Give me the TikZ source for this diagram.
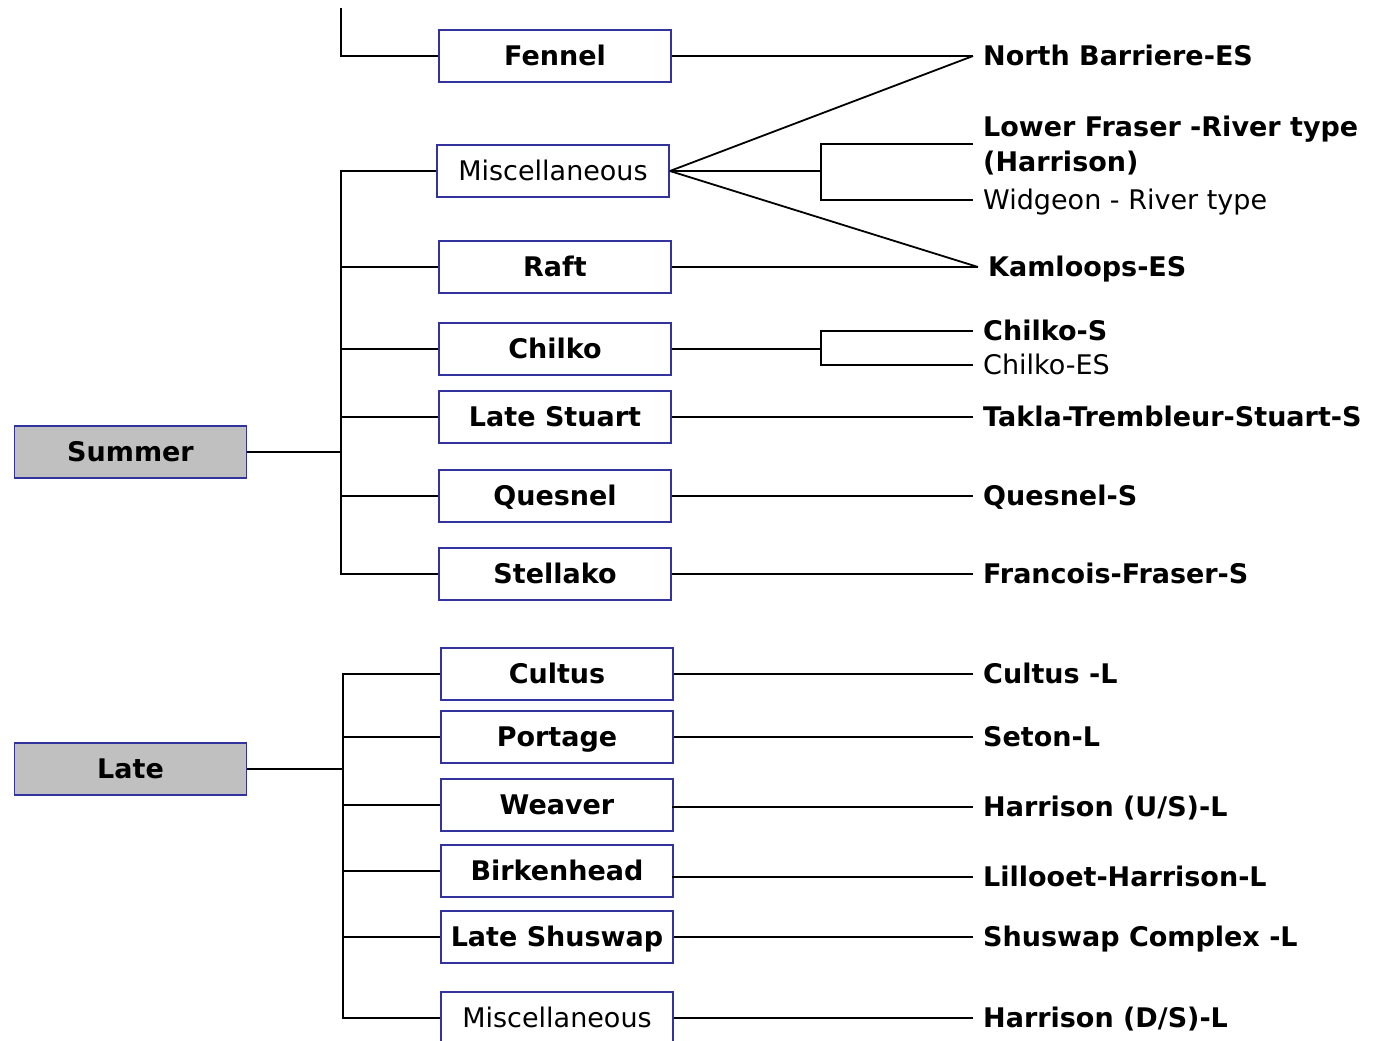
\documentclass[tikz,border=0pt]{standalone}
\usepackage{fontspec}
\setmainfont{DejaVu Sans}
\definecolor{boxblue}{HTML}{3333A0}
\definecolor{boxgray}{HTML}{C0C0C0}
\begin{document}
\begin{tikzpicture}[x=1pt,y=-1pt,
  every node/.style={font=\fontsize{27}{35}\selectfont},
  gbox/.style={draw=boxblue,line width=1.8pt,minimum width=232pt,minimum height=52pt,inner sep=0pt,text height=19.5pt,text depth=0pt,font=\fontsize{27}{35}\selectfont\bfseries},
  catbox/.style={gbox,fill=boxgray},
  nbox/.style={gbox,font=\fontsize{27}{35}\selectfont},
  lbl/.style={anchor=west,inner xsep=10pt,inner ysep=0pt,text height=19.5pt,text depth=0pt,font=\fontsize{27}{35}\selectfont\bfseries},
  nlbl/.style={lbl,font=\fontsize{27}{35}\selectfont},
  conn/.style={line width=1.8pt,black}]
\useasboundingbox (0,0) rectangle (1373,1041);
% category boxes
\node[catbox] (summer) at (130.5,452) {Summer};
\node[catbox] (late) at (130.5,769) {Late};
% summer groups
\node[gbox] (fennel) at (555,56) {Fennel};
\node[nbox] (misc1) at (553,171) {Miscellaneous};
\node[gbox] (raft) at (555,267) {Raft};
\node[gbox] (chilko) at (555,349) {Chilko};
\node[gbox] (lstuart) at (555,417) {Late Stuart};
\node[gbox] (quesnel) at (555,496) {Quesnel};
\node[gbox] (stellako) at (555,574) {Stellako};
% late groups
\node[gbox] (cultus) at (557,674) {Cultus};
\node[gbox] (portage) at (557,737) {Portage};
\node[gbox] (weaver) at (557,805) {Weaver};
\node[gbox] (birken) at (557,871) {Birkenhead};
\node[gbox] (lshus) at (557,937) {Late Shuswap};
\node[nbox] (misc2) at (557,1018) {Miscellaneous};
% labels
\node[lbl] (nbar) at (973,56) {North Barriere-ES};
\node[lbl,align=left,text height=,text depth=] (lfr) at (973,145.5) {Lower Fraser -River type\\(Harrison)};
\node[nlbl] (widg) at (973,200) {Widgeon - River type};
\node[lbl] (kam) at (978,267) {Kamloops-ES};
\node[lbl] (chs) at (973,331) {Chilko-S};
\node[nlbl] (ches) at (973,365) {Chilko-ES};
\node[lbl] (takla) at (973,417) {Takla-Trembleur-Stuart-S};
\node[lbl] (quesS) at (973,496) {Quesnel-S};
\node[lbl] (franc) at (973,574) {Francois-Fraser-S};
\node[lbl] (cultL) at (973,674) {Cultus -L};
\node[lbl] (seton) at (973,737) {Seton-L};
\node[lbl] (harUS) at (973,807) {Harrison (U/S)-L};
\node[lbl] (lill) at (973,877) {Lillooet-Harrison-L};
\node[lbl] (shus) at (973,937) {Shuswap Complex -L};
\node[lbl] (harDS) at (973,1018) {Harrison (D/S)-L};
% trunk coordinates
\coordinate (stop) at (341,8);
\coordinate (sj) at (341,452);
\coordinate (lj) at (343,769);
\coordinate (mj) at (821,171);
\coordinate (cj) at (821,349);
% summer trunk
\draw[conn] (summer.east) -- (sj);
\draw[conn] (stop) |- (fennel.west);
\draw[conn] (sj) |- (stellako.west);
\draw[conn] (sj) |- (misc1.west);
\draw[conn] (raft.west -| sj) -- (raft.west);
\draw[conn] (chilko.west -| sj) -- (chilko.west);
\draw[conn] (lstuart.west -| sj) -- (lstuart.west);
\draw[conn] (quesnel.west -| sj) -- (quesnel.west);
% late trunk
\draw[conn] (late.east) -- (lj);
\draw[conn] (lj) |- (cultus.west);
\draw[conn] (lj) |- (misc2.west);
\draw[conn] (portage.west -| lj) -- (portage.west);
\draw[conn] (weaver.west -| lj) -- (weaver.west);
\draw[conn] (birken.west -| lj) -- (birken.west);
\draw[conn] (lshus.west -| lj) -- (lshus.west);
% right connectors summer
\draw[conn] (fennel.east) -- (nbar.west);
\draw[conn] (misc1.east) -- (nbar.west);
\draw[conn] (misc1.east) -- (kam.west);
\draw[conn] (misc1.east) -- (mj);
\draw[conn] ([yshift=1.5pt]lfr.west) -| (mj) |- (widg.west);
\draw[conn] (raft.east) -- (kam.west);
\draw[conn] (chilko.east) -- (cj);
\draw[conn] (chs.west) -| (cj) |- (ches.west);
\draw[conn] (lstuart.east) -- (takla.west);
\draw[conn] (quesnel.east) -- (quesS.west);
\draw[conn] (stellako.east) -- (franc.west);
% right connectors late
\draw[conn] (cultus.east) -- (cultL.west);
\draw[conn] (portage.east) -- (seton.west);
\draw[conn] ([xshift=-2pt,yshift=-2pt]weaver.east) -- (harUS.west);
\draw[conn] ([xshift=-2pt,yshift=-6pt]birken.east) -- (lill.west);
\draw[conn] (lshus.east) -- (shus.west);
\draw[conn] (misc2.east) -- (harDS.west);
\end{tikzpicture}
\end{document}
